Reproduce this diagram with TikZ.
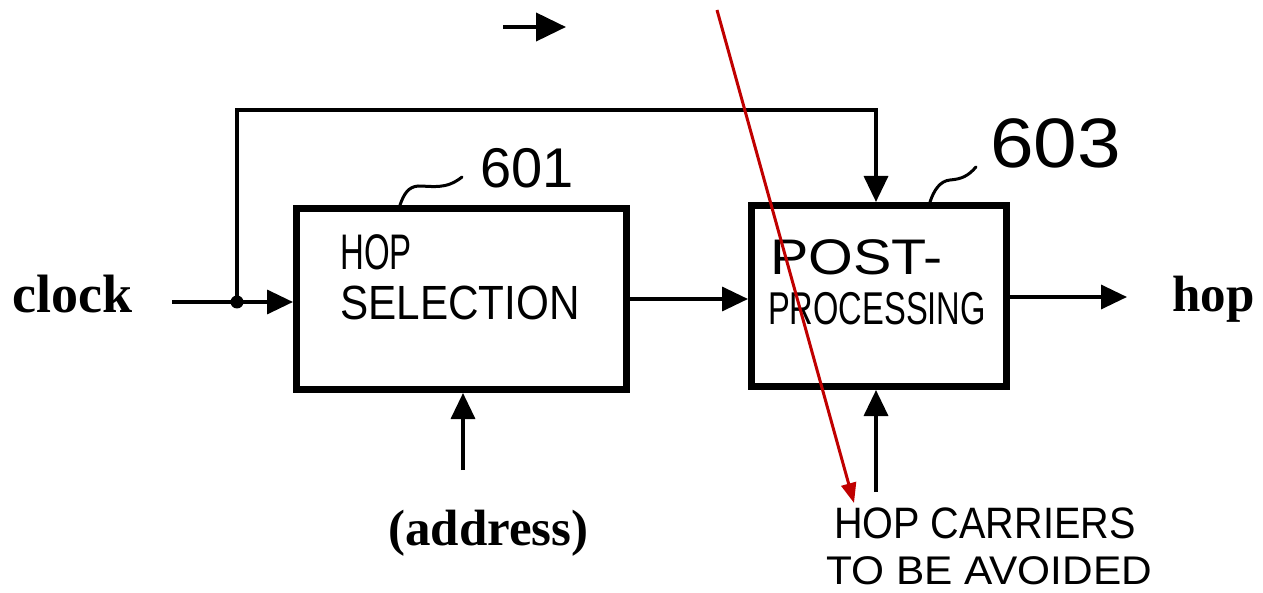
\documentclass[tikz,border=0pt]{standalone}
\usepackage{fontspec}
\usepackage{graphicx}
\setmainfont{Liberation Serif}
\newfontfamily\hand{Liberation Sans}
\usetikzlibrary{arrows.meta}
\definecolor{redmark}{RGB}{192,0,0}
\newcommand\squeezed[2]{\scalebox{#1}[1]{#2}}
\tikzset{
  blk/.style={draw, line width=7pt, inner sep=0pt},
  conn/.style={line width=3.5pt, -{Triangle[length=26pt,width=24pt]}},
  lead/.style={line width=3pt, line cap=round},
  hw/.style={inner sep=0pt, anchor=base west},
  lbl/.style={inner sep=0pt, anchor=base west, font=\bfseries\fontsize{54}{60}\selectfont},
  markup/.style={draw=redmark, line width=3pt, -{Triangle[length=20pt,width=15pt,fill=redmark]}}
}
\begin{document}
\begin{tikzpicture}[x=1pt,y=-1pt]
\useasboundingbox (0,0) rectangle (1263,593);

% the two processing blocks
\node[blk, minimum width=330pt, minimum height=181pt] (sel) at (461.5,299) {};
\node[blk, minimum width=255pt, minimum height=181pt] (post) at (879,296) {};

% handwritten block titles
\node[hw, font=\hand\fontsize{50}{56}\selectfont] (selA) at (340,270) {\squeezed{0.66}{HOP}};
\node[hw, font=\hand\fontsize{48}{56}\selectfont] (selB) at (340,320) {\squeezed{0.88}{SELECTION}};
\node[hw, font=\hand\fontsize{50}{56}\selectfont] (postA) at (770,275) {\squeezed{1.15}{POST-}};
\node[hw, font=\hand\fontsize{46}{56}\selectfont] (postB) at (768,325) {\squeezed{0.71}{PROCESSING}};

% reference numerals and their leaders
\node[hw, font=\hand\fontsize{56}{60}\selectfont] (n601) at (480,188) {601};
\node[hw, font=\hand\fontsize{70}{76}\selectfont] (n603) at (990,168) {\squeezed{1.12}{603}};
\draw[lead] (400,0 |- sel.north) .. controls (404,194) and (408,187) .. (418,186)
  .. controls (432,186) and (446,190) .. (462,177);
\draw[lead] (930,0 |- post.north) .. controls (934,190) and (940,181) .. (950,180)
  .. controls (962,179) and (968,176) .. (976,167);

% external signal names
\node[lbl] (clk) at (12,313) {clock};
\node[lbl, font=\bfseries\fontsize{51}{60}\selectfont] (hopout) at (1172,312) {hop};
\node[lbl, font=\bfseries\fontsize{51}{60}\selectfont] (addr) at (388,545) {(address)};
\node[hw, font=\hand\fontsize{44}{50}\selectfont] (avoidA) at (834,538) {\squeezed{0.9}{HOP CARRIERS}};
\node[hw, font=\hand\fontsize{40}{50}\selectfont] (avoidB) at (826,584) {\squeezed{1.06}{TO BE AVOIDED}};

% clock input with branch to the post-processing block
\coordinate (clkin) at (172,302);
\coordinate (jn) at (237,302);
\coordinate (fbk) at (876,110);
\draw[conn] (clkin) -- (clkin -| sel.west);
\fill (jn) circle (6.5pt);
\draw[conn] (jn) |- (fbk) -- (fbk |- post.north);

% data path
\draw[conn] (sel.east) -- (sel.east -| post.west);
\coordinate (hopend) at (1127,297);
\draw[conn] (post.east |- hopend) -- (hopend);

% inputs from below
\coordinate (addrin) at (463,470);
\draw[conn] (addrin) -- (addrin |- sel.south);
\coordinate (avin) at (876,492);
\draw[conn] (avin) -- (avin |- post.south);

% small arrow above the diagram
\coordinate (s0) at (503,27);
\coordinate (s1) at (566,27);
\draw[line width=4pt, -{Triangle[length=30pt,width=28pt]}] (s0) -- (s1);

% red annotation stroke
\coordinate (rs) at (717,10);
\coordinate (re) at (854,503);
\draw[markup] (rs) -- (re);
\end{tikzpicture}
\end{document}
